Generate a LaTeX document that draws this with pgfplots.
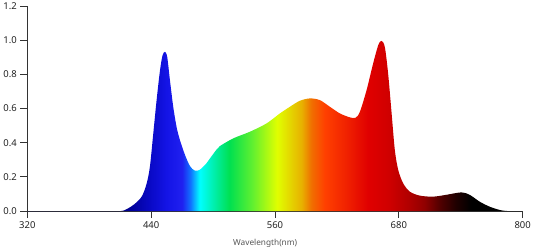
\documentclass[border=0pt]{standalone}
\usepackage{pgfplots}
\pgfplotsset{compat=1.18}
\usepackage{fontspec}
\setmainfont{Noto Sans}
\definecolor{axisgray}{HTML}{333333}
\definecolor{ticktext}{HTML}{222222}
\definecolor{labeltext}{HTML}{555555}
\definecolor{s0}{HTML}{000070}
\definecolor{s1}{HTML}{00009A}
\definecolor{s2}{HTML}{0A0AC8}
\definecolor{s3}{HTML}{1414E6}
\definecolor{s4}{HTML}{2020F0}
\definecolor{s5}{HTML}{1070FF}
\definecolor{s6}{HTML}{00FFFF}
\definecolor{s7}{HTML}{00F0B0}
\definecolor{s8}{HTML}{00E050}
\definecolor{s9}{HTML}{60F030}
\definecolor{s10}{HTML}{E0FF00}
\definecolor{s11}{HTML}{E8B000}
\definecolor{s12}{HTML}{F07000}
\definecolor{s13}{HTML}{FF4000}
\definecolor{s14}{HTML}{F02000}
\definecolor{s15}{HTML}{E00000}
\definecolor{s16}{HTML}{D00000}
\definecolor{s17}{HTML}{B00000}
\definecolor{s18}{HTML}{900000}
\definecolor{s19}{HTML}{500000}
\definecolor{s20}{HTML}{200000}
\definecolor{s21}{HTML}{000000}
% position(bp) = 25 + (nm-320)/9.6
\pgfdeclarehorizontalshading{spectrum}{100bp}{%
color(0bp)=(s0); color(33.85bp)=(s0); color(35.42bp)=(s1); color(37.5bp)=(s2);
color(39.06bp)=(s3); color(40.63bp)=(s4); color(41.46bp)=(s5); color(42.40bp)=(s6);
color(43.75bp)=(s7); color(45.42bp)=(s8); color(47.71bp)=(s9); color(50.21bp)=(s10);
color(52.71bp)=(s11); color(53.65bp)=(s12); color(55.00bp)=(s13); color(57.29bp)=(s14);
color(59.38bp)=(s15); color(61.46bp)=(s16); color(63.54bp)=(s17); color(65.10bp)=(s18);
color(66.67bp)=(s19); color(68.23bp)=(s20); color(69.79bp)=(s21); color(100bp)=(s21)}
\begin{document}
\begin{tikzpicture}
\path[use as bounding box] (-27.3bp,-39bp) rectangle (505.7bp,211bp);
\begin{axis}[
  at={(0,0)}, anchor=south west,
  scale only axis, width=495.4bp, height=205bp,
  xmin=320, xmax=800, ymin=0, ymax=1.2,
  enlargelimits=false,
  axis x line=bottom, axis y line=left,
  axis line style={-, draw=axisgray, line width=0.8bp},
  xtick={320,440,560,680,800},
  ytick={0,0.2,0.4,0.6,0.8,1.0,1.2},
  tick align=outside, major tick length=7bp,
  tick style={draw=axisgray, line width=0.8bp},
  /pgf/number format/assume math mode=true,
  ticklabel style={font=\fontsize{9.5}{11}\selectfont, text=ticktext},
  yticklabel style={/pgf/number format/fixed, /pgf/number format/fixed zerofill, /pgf/number format/precision=1},
  xticklabel style={/pgf/number format/1000 sep={}},
  xlabel={Wavelength(nm)},
  xlabel style={at={(axis description cs:0.48,0)}, anchor=center, yshift=-32bp, font=\fontsize{8.3}{10}\selectfont, text=labeltext},
]
\addplot[draw=none, shading=spectrum, smooth, tension=0.5, mark=none] coordinates {
(320,0) (380,0) (405,0) (413,0.002) (422.7,0.035) (430.8,0.084) (435.6,0.16) (438.8,0.26)
(442,0.45) (445.3,0.65) (448.5,0.82) (451,0.91) (453.4,0.932) (455.6,0.90) (458.2,0.766)
(461.4,0.61) (464.7,0.49) (467.9,0.415) (472.7,0.33) (477.6,0.263) (482.4,0.236)
(487.3,0.242) (493.7,0.28) (497,0.308) (503.4,0.36) (506.6,0.38) (519.5,0.425)
(535.7,0.464) (551.9,0.513) (564.7,0.571) (574.4,0.61) (584,0.645) (593.8,0.659)
(603.5,0.649) (613.2,0.61) (622.9,0.571) (632.6,0.548) (638,0.546) (642.2,0.58)
(648.7,0.707) (655.1,0.864) (660,0.97) (663.2,0.996) (666.4,0.96) (669.6,0.805)
(673,0.571) (676.1,0.357) (679.4,0.24) (684.2,0.162) (690.7,0.113) (700.4,0.09)
(713.2,0.084) (726.2,0.095) (740.7,0.109) (748.8,0.094) (758.5,0.054) (768.1,0.025)
(777.8,0.006) (785,0) (800,0)
} \closedcycle;
\end{axis}
\end{tikzpicture}
\end{document}
